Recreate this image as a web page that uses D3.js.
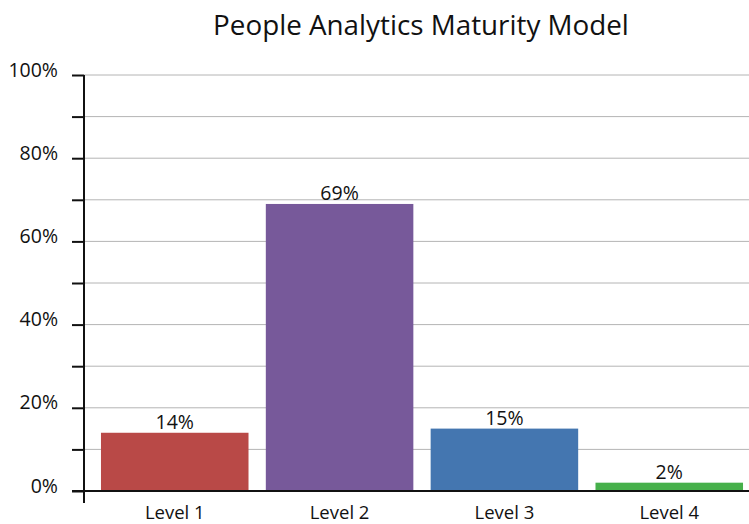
<!DOCTYPE html>
<html>
<head>
<meta charset="utf-8">
<script src="https://cdn.jsdelivr.net/npm/d3@7"></script>
<style>
  body { margin: 0; background: #fff; }
  svg { display: block; font-family: "Open Sans", "Noto Sans", sans-serif; }
</style>
</head>
<body>
<svg id="chart" width="749" height="524"></svg>
<script>
var categories = ['Level 1', 'Level 2', 'Level 3', 'Level 4'];
var shares = [14, 69, 15, 2];
var barColors = ['#b94947', '#77599a', '#4476b0', '#46b04b'];
var tickValues = [0, 10, 20, 30, 40, 50, 60, 70, 80, 90, 100];

var svg = d3.select('#chart');
var width = 749;

var x = d3.scaleBand()
  .domain(categories)
  .range([84, 760])
  .paddingInner(0.105)
  .paddingOuter(0.103);

var y = d3.scaleLinear()
  .domain([0, 100])
  .range([491, 75]);

// title
svg.append('text')
  .attr('x', 421)
  .attr('y', 35)
  .attr('text-anchor', 'middle')
  .style('font-size', '27.8px')
  .attr('fill', '#111')
  .text('People Analytics Maturity Model');

// gridlines
svg.append('g')
  .attr('class', 'grid')
  .selectAll('line')
  .data(tickValues.filter(function (d) { return d > 0; }))
  .enter().append('line')
  .attr('x1', 84)
  .attr('x2', width)
  .attr('y1', function (d) { return y(d); })
  .attr('y2', function (d) { return y(d); })
  .attr('stroke', '#b4b4b4')
  .attr('stroke-width', 1);

// bars
svg.append('g')
  .selectAll('rect')
  .data(shares)
  .enter().append('rect')
  .attr('x', function (d, i) { return x(categories[i]); })
  .attr('y', function (d) { return y(d); })
  .attr('width', x.bandwidth())
  .attr('height', function (d) { return y(0) - y(d); })
  .attr('fill', function (d, i) { return barColors[i]; });

// value labels
svg.append('g')
  .selectAll('text')
  .data(shares)
  .enter().append('text')
  .attr('x', function (d, i) { return x(categories[i]) + x.bandwidth() / 2; })
  .attr('y', function (d) { return y(d) - 4; })
  .attr('text-anchor', 'middle')
  .style('font-size', '19.5px')
  .attr('fill', '#111')
  .text(function (d) { return d + '%'; });

// y axis: ticks every 10%, labels every 20%
var yAxis = d3.axisLeft(y)
  .tickValues(tickValues)
  .tickSize(12)
  .tickPadding(14)
  .tickFormat(function (d) { return d % 20 === 0 ? d + '%' : ''; });

var yg = svg.append('g')
  .attr('transform', 'translate(84,0)')
  .call(yAxis);
yg.select('.domain').remove();
yg.selectAll('.tick line').attr('stroke', '#111').attr('stroke-width', 2);
yg.selectAll('.tick text')
  .attr('dy', '0')
  .attr('y', 1)
  .style('font-size', '19.5px')
  .style('font-family', '"Open Sans", "Noto Sans", sans-serif')
  .attr('fill', '#111');

// axis lines
svg.append('line')
  .attr('x1', 84).attr('x2', 84)
  .attr('y1', y(100)).attr('y2', 503)
  .attr('stroke', '#111').attr('stroke-width', 2);
svg.append('line')
  .attr('x1', 72).attr('x2', width)
  .attr('y1', y(0)).attr('y2', y(0))
  .attr('stroke', '#111').attr('stroke-width', 2);

// category labels
svg.append('g')
  .selectAll('text')
  .data(categories)
  .enter().append('text')
  .attr('x', function (d) { return x(d) + x.bandwidth() / 2; })
  .attr('y', 519)
  .attr('text-anchor', 'middle')
  .style('font-size', '18.5px')
  .attr('fill', '#111')
  .text(function (d) { return d; });
</script>
</body>
</html>
